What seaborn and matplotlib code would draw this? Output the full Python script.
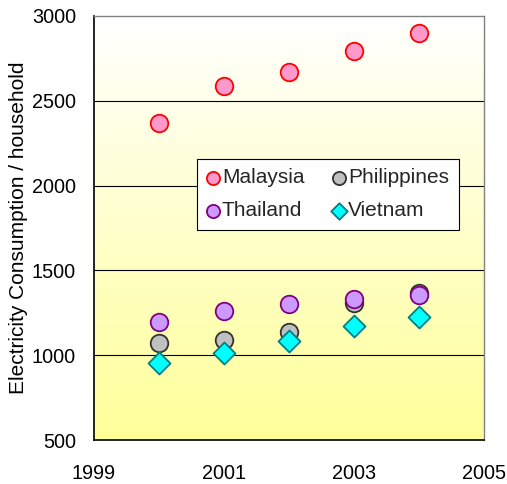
import numpy as np
import pandas as pd
import matplotlib
matplotlib.use("Agg")
import matplotlib.pyplot as plt
import seaborn as sns
from matplotlib.colors import LinearSegmentedColormap

years = [2000, 2001, 2002, 2003, 2004]
malaysia = [2367, 2585, 2672, 2795, 2902]
philippines = [1070, 1090, 1139, 1306, 1368]
thailand = [1194, 1261, 1300, 1331, 1357]
vietnam = [956, 1011, 1085, 1174, 1223]

countries = ["Malaysia", "Philippines", "Thailand", "Vietnam"]
faces = {"Malaysia": "#FF99CC", "Philippines": "#C0C0C0",
         "Thailand": "#CC99FF", "Vietnam": "#00FFFF"}
edges = {"Malaysia": "#FF0000", "Philippines": "#333333",
         "Thailand": "#800080", "Vietnam": "#008080"}
marks = {"Malaysia": "o", "Philippines": "o", "Thailand": "o", "Vietnam": "D"}

df = pd.DataFrame({
    "year": years * 4,
    "value": malaysia + philippines + thailand + vietnam,
    "country": sum([[c] * len(years) for c in countries], []),
})

sns.set_theme(style="white")
plt.rcParams["font.family"] = ["Liberation Sans", "DejaVu Sans"]

fig = plt.figure(figsize=(5.07, 4.84), dpi=100)
ax = fig.add_axes([0.1854, 0.0909, 0.7692, 0.8761])

# white-to-yellow gradient plot area
grad = LinearSegmentedColormap.from_list("bg", ["#FFFFFF", "#FFFF99"])
ax.imshow(np.linspace(0, 1, 256).reshape(-1, 1), cmap=grad, aspect="auto",
          extent=[0, 1, 0, 1], transform=ax.transAxes, zorder=0,
          origin="upper")

for c in countries:
    sub = df[df["country"] == c]
    size = 160 if marks[c] == "o" else 125
    sns.scatterplot(data=sub, x="year", y="value", ax=ax, color=faces[c],
                    edgecolor=edges[c], linewidth=1.3, marker=marks[c],
                    s=size, label=c, zorder=3, legend=True)

ax.set_xlim(1999, 2005)
ax.set_ylim(500, 3000)
ax.set_xticks([1999, 2001, 2003, 2005])
ax.set_yticks([500, 1000, 1500, 2000, 2500, 3000])
for yv in [1000, 1500, 2000, 2500]:
    ax.axhline(yv, color="#000000", lw=0.8, zorder=1)

ax.set_xlabel("")
ax.set_ylabel("Electricity Consumption / household", fontsize=15,
              color="#000000", labelpad=3)
ax.tick_params(axis="both", labelsize=14.3, colors="#000000",
               direction="in", length=4, width=0.8)
ax.tick_params(axis="x", pad=17)
ax.tick_params(axis="y", pad=13)

for side in ["left", "bottom"]:
    ax.spines[side].set_color("#000000")
    ax.spines[side].set_linewidth(1.2)
for side in ["top", "right"]:
    ax.spines[side].set_color("#808080")
    ax.spines[side].set_linewidth(1.0)
    ax.spines[side].set_visible(True)

handles, labels = ax.get_legend_handles_labels()
order = [labels.index(n) for n in ["Malaysia", "Thailand", "Philippines", "Vietnam"]]
leg = ax.legend([handles[i] for i in order], [labels[i] for i in order],
                ncol=2, loc="upper left", bbox_to_anchor=(0.264, 0.663),
                fontsize=15, frameon=True, fancybox=False, markerscale=0.75,
                handletextpad=0.15, handlelength=0.6, columnspacing=1.35,
                borderpad=0.45, borderaxespad=0, labelspacing=0.68)
leg.get_frame().set_edgecolor("#000000")
leg.get_frame().set_linewidth(0.8)
leg.get_frame().set_facecolor("#FFFFFF")
leg.get_frame().set_alpha(1)

fig.savefig("out.png", dpi=100)
